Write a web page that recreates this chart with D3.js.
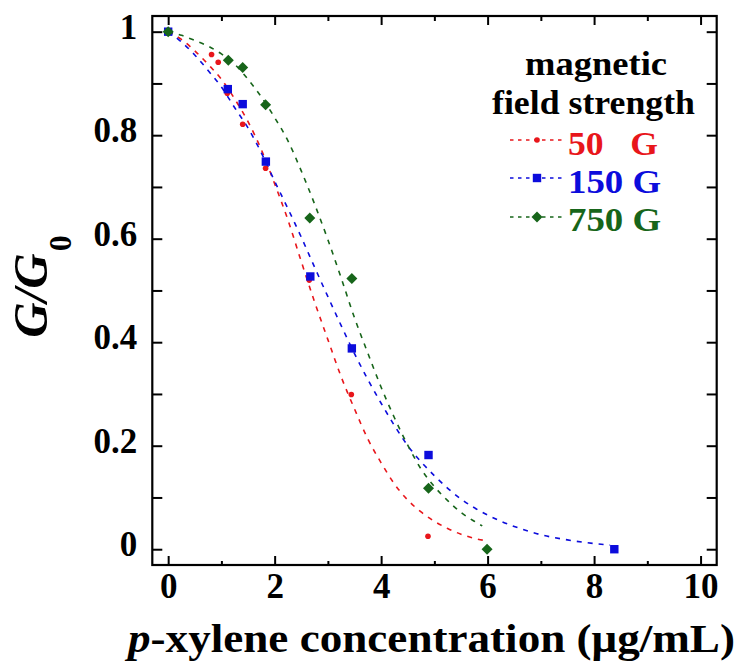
<!DOCTYPE html>
<html><head><meta charset="utf-8">
<script src="https://cdn.jsdelivr.net/npm/d3@7"></script>
<style>body{margin:0;background:#fff}svg{display:block}text{font-family:"Liberation Serif","Times New Roman",serif;font-weight:bold}</style>
</head><body>
<script>
// ---- data ----
const xMajor = [0, 2, 4, 6, 8, 10];
const xMinor = [1, 3, 5, 7, 9];
const yMajor = [0, 0.2, 0.4, 0.6, 0.8, 1];
const yMinor = [0.1, 0.3, 0.5, 0.7, 0.9];
const yTickLabels = ["0", "0.2", "0.4", "0.6", "0.8", "1"];
const seriesNames = ["50   G", "150 G", "750 G"];

const x50 = [0, 0.815, 0.94, 1.11, 1.40, 1.83, 2.65, 3.44, 4.88];
const y50 = [1, 0.956, 0.941, 0.881, 0.821, 0.736, 0.520, 0.299, 0.025];
const x150 = [0, 1.12, 1.40, 1.835, 2.67, 3.45, 4.89, 8.38];
const y150 = [1, 0.889, 0.860, 0.749, 0.527, 0.388, 0.182, 0.0];
const x750 = [0, 1.13, 1.40, 1.83, 2.66, 3.45, 4.89, 5.99];
const y750 = [1, 0.945, 0.931, 0.859, 0.640, 0.523, 0.118, 0.0];

const fitX50 = [0,0.25,0.5,0.75,1,1.25,1.5,1.75,2,2.25,2.5,2.75,3,3.25,3.5,3.75,4,4.25,4.5,4.75,5,5.25,5.5,5.75,6];
const fitY50 = [1,0.985,0.963,0.937,0.908,0.870,0.826,0.772,0.706,0.636,0.556,0.478,0.405,0.333,0.271,0.213,0.167,0.126,0.095,0.072,0.054,0.040,0.029,0.021,0.016];
const fitX150 = [0,0.25,0.5,0.75,1,1.25,1.5,1.75,2,2.25,2.5,2.75,3,3.25,3.5,3.75,4,4.25,4.5,4.75,5,5.5,6,6.5,7,7.5,8,8.3];
const fitY150 = [1,0.98,0.955,0.925,0.893,0.853,0.814,0.766,0.711,0.658,0.603,0.545,0.488,0.432,0.378,0.328,0.282,0.239,0.200,0.169,0.142,0.097,0.066,0.044,0.028,0.018,0.011,0.008];
const fitX750 = [0,0.25,0.5,0.75,1,1.25,1.5,1.75,2,2.25,2.5,2.75,3,3.25,3.5,3.75,4,4.25,4.5,4.75,5,5.25,5.5,5.75,5.9];
const fitY750 = [1,0.993,0.983,0.972,0.957,0.937,0.908,0.874,0.834,0.789,0.731,0.667,0.598,0.524,0.447,0.379,0.313,0.254,0.201,0.155,0.121,0.094,0.071,0.054,0.045];

// ---- layout ----
const W = 744, H = 663;
const L = 152.3, R = 716.7, T = 16, B = 565;
const colors = ["#e8161b", "#0c0cdc", "#17651a"];
const FONT = '"Liberation Serif","Times New Roman",serif';

const svg = d3.select("body").append("svg").attr("width", W).attr("height", H);
const x = d3.scaleLinear().domain([-0.298, 10.303]).range([L, R]);
const y = d3.scaleLinear().domain([-0.0305, 1.0303]).range([B, T]);

function styleAxis(g) {
  g.select(".domain").remove();
  g.selectAll(".tick line").attr("stroke", "#000").attr("stroke-width", 2);
}
// bottom
svg.append("g").attr("transform", `translate(0,${B})`)
  .call(d3.axisBottom(x).tickValues(xMajor).tickSize(-9).tickPadding(8).tickFormat(d3.format("d")))
  .call(styleAxis)
  .call(g => g.selectAll("text").attr("font-size", 35).attr("fill", "#000")
    .style("font-family", FONT).style("font-weight", "bold"));
svg.append("g").attr("transform", `translate(0,${B})`)
  .call(d3.axisBottom(x).tickValues(xMinor).tickSize(-4).tickFormat("")).call(styleAxis);
// top
svg.append("g").attr("transform", `translate(0,${T})`)
  .call(d3.axisTop(x).tickValues(xMajor).tickSize(-9).tickFormat("")).call(styleAxis);
svg.append("g").attr("transform", `translate(0,${T})`)
  .call(d3.axisTop(x).tickValues(xMinor).tickSize(-5).tickFormat("")).call(styleAxis);
// left
svg.append("g").attr("transform", `translate(${L},0)`)
  .call(d3.axisLeft(y).tickValues(yMajor).tickSize(-10).tickPadding(15).tickFormat((d, i) => yTickLabels[i]))
  .call(styleAxis)
  .call(g => g.selectAll("text").attr("font-size", 35).attr("fill", "#000").attr("dy", "0.19em")
    .style("font-family", FONT).style("font-weight", "bold"));
svg.append("g").attr("transform", `translate(${L},0)`)
  .call(d3.axisLeft(y).tickValues(yMinor).tickSize(-10).tickFormat("")).call(styleAxis);
// right
svg.append("g").attr("transform", `translate(${R},0)`)
  .call(d3.axisRight(y).tickValues(yMajor.concat(yMinor)).tickSize(-10).tickFormat("")).call(styleAxis);

// frame
svg.append("rect").attr("x", L).attr("y", T).attr("width", R - L).attr("height", B - T)
  .attr("fill", "none").attr("stroke", "#000").attr("stroke-width", 2.2);

// curves
const line = d3.line().x(d => x(d[0])).y(d => y(d[1])).curve(d3.curveMonotoneX);
const fits = [[fitX50, fitY50], [fitX150, fitY150], [fitX750, fitY750]];
const pts = [[x50, y50], [x150, y150], [x750, y750]];

const plot = svg.append("g");
fits.forEach((f, i) => {
  plot.append("path").datum(f[0].map((v, k) => [v, f[1][k]]))
    .attr("d", line).attr("fill", "none").attr("stroke", colors[i])
    .attr("stroke-width", 1.6).attr("stroke-dasharray", "5,6");
});

function marker(g, kind, cx, cy, c) {
  if (kind === 0) g.append("circle").attr("cx", cx).attr("cy", cy).attr("r", 2.8).attr("fill", c);
  else if (kind === 1) g.append("rect").attr("x", cx - 4.2).attr("y", cy - 4.2).attr("width", 8.4).attr("height", 8.4).attr("fill", c);
  else g.append("path").attr("d", `M${cx},${cy - 5.5}L${cx + 5.5},${cy}L${cx},${cy + 5.5}L${cx - 5.5},${cy}Z`).attr("fill", c);
}
pts.forEach((p, i) => {
  p[0].forEach((v, k) => marker(plot, i, x(v), y(p[1][k]), colors[i]));
});

// legend
const lg = svg.append("g");
lg.append("text").attr("x", 596).attr("y", 75).attr("text-anchor", "middle").attr("font-size", 33)
  .attr("textLength", 142).attr("lengthAdjust", "spacingAndGlyphs").text("magnetic");
lg.append("text").attr("x", 593.5).attr("y", 114).attr("text-anchor", "middle").attr("font-size", 33)
  .attr("textLength", 203).attr("lengthAdjust", "spacingAndGlyphs").text("field strength");
const legY = [140, 178, 217];
const legBase = [155, 193, 231];
const legW = [90, 93, 93];
seriesNames.forEach((nm, i) => {
  lg.append("line").attr("x1", 510).attr("x2", 563).attr("y1", legY[i]).attr("y2", legY[i])
    .attr("stroke", colors[i]).attr("stroke-width", 1.3).attr("stroke-dasharray", "3.5,4.5");
  marker(lg, i, 537, legY[i], colors[i]);
  lg.append("text").attr("x", 568).attr("y", legBase[i]).attr("font-size", 33).attr("fill", colors[i])
    .style("white-space", "pre").attr("textLength", legW[i]).attr("lengthAdjust", "spacingAndGlyphs").text(nm);
});

// axis titles
const xt = svg.append("text").attr("x", 431.5).attr("y", 652).attr("text-anchor", "middle")
  .attr("font-size", 41).attr("textLength", 607).attr("lengthAdjust", "spacingAndGlyphs");
xt.append("tspan").style("font-style", "italic").text("p");
xt.append("tspan").text("-xylene concentration (μg/mL)");

const yt = svg.append("text").attr("transform", "translate(47,286.5) rotate(-90)").attr("text-anchor", "middle")
  .attr("font-size", 49);
yt.append("tspan").style("font-style", "italic").text("G/G");
yt.append("tspan").attr("font-size", 32).attr("dy", 24).attr("dx", 2).text("0");
</script>
</body></html>
